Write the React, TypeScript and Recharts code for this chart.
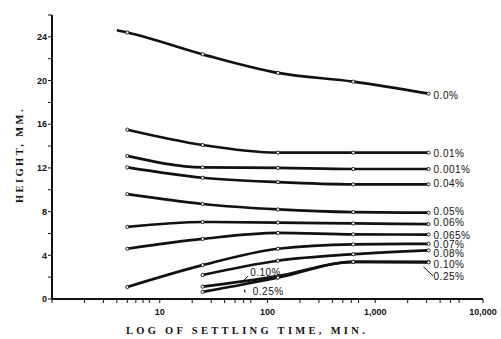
import React from 'react'
import { LineChart, Line, XAxis, YAxis, ReferenceLine, ReferenceDot } from 'recharts'

// settling times (min) where heights were read
const TIMES = [5, 25, 125, 625, 3125]
const LATE_TIMES = [25, 125, 625, 3125]

// heights (mm) per concentration
const H_0 = [24.4, 22.4, 20.7, 19.9, 18.8]
const H_001 = [15.5, 14.1, 13.4, 13.4, 13.4]
const H_0001 = [13.1, 12.05, 12.0, 11.9, 11.9]
const H_004 = [12.05, 11.1, 10.7, 10.5, 10.5]
const H_005 = [9.6, 8.7, 8.2, 7.95, 7.9]
const H_006 = [6.6, 7.05, 7.0, 6.92, 6.86]
const H_0065 = [4.6, 5.5, 6.05, 5.92, 5.9]
const H_007 = [1.1, 3.1, 4.6, 5.0, 5.05]
const H_008 = [2.2, 3.5, 4.1, 4.45]
const H_010 = [1.13, 2.1, 3.4, 3.4]
const H_025 = [0.65, 1.95, 3.4, 3.35]

// the 0.0% curve is drawn a little past its first reading
const H_0_START = { t: 4, h: 24.6 }

const X_TICKS = [1, 2, 3, 4, 5, 6, 7, 8, 9, 10, 20, 30, 40, 50, 60, 70, 80, 90, 100, 200, 300, 400, 500, 600, 700, 800, 900, 1000, 2000, 3000, 4000, 5000, 6000, 7000, 8000, 9000, 10000]
const X_LABELS: Record<number, string> = { 10: '10', 100: '100', 1000: '1,000', 10000: '10,000' }
const Y_TICKS = [0, 2, 4, 6, 8, 10, 12, 14, 16, 18, 20, 22, 24, 26]

const toPts = (ts: number[], hs: number[]) => ts.map((t, i) => ({ t, h: hs[i] }))

const series = [
  { name: '0.0%', data: [{ ...H_0_START, skip: true }, ...toPts(TIMES, H_0)], dy: 2 },
  { name: '0.01%', data: toPts(TIMES, H_001), dy: 1 },
  { name: '0.001%', data: toPts(TIMES, H_0001), dy: 0 },
  { name: '0.04%', data: toPts(TIMES, H_004), dy: -1 },
  { name: '0.05%', data: toPts(TIMES, H_005), dy: -1.5 },
  { name: '0.06%', data: toPts(TIMES, H_006), dy: -2 },
  { name: '0.065%', data: toPts(TIMES, H_0065), dy: 1 },
  { name: '0.07%', data: toPts(TIMES, H_007), dy: 1 },
  { name: '0.08%', data: toPts(LATE_TIMES, H_008), dy: 3.5 },
  { name: '0.10%', data: toPts(LATE_TIMES, H_010), dy: 3 },
  { name: '0.25%', data: toPts(LATE_TIMES, H_025), dy: 14 },
]

const INK = '#111'
const labelFont = '"Liberation Sans", Arial, sans-serif'
const titleFont = '"Liberation Serif", "Times New Roman", serif'

const Dot = (p: any) => {
  if (p.payload?.skip) return <g key={p.key} />
  return <circle key={p.key} cx={p.cx} cy={p.cy} r={1.6} fill="#fff" stroke={INK} strokeWidth={0.9} />
}

const Note = ({ cx, cy, text }: { cx: number; cy: number; text: string }) => (
  <text x={cx} y={cy} dy="0.35em" fontSize={10} letterSpacing={0.5} fontFamily={labelFont} fill={INK}>
    {text}
  </text>
)

export default function App() {
  return (
    <div style={{ position: 'relative', width: 501, height: 339, background: '#fff' }}>
      <style>{'body{margin:0}'}</style>
      <LineChart width={501} height={339} margin={{ top: 15, right: 18, bottom: 0, left: 22 }}>
        <XAxis
          type="number"
          dataKey="t"
          scale="log"
          domain={[1, 10000]}
          ticks={X_TICKS}
          allowDataOverflow
          tickFormatter={(v: number) => X_LABELS[v] ?? ''}
          tick={{ fill: INK, fontSize: 9, fontFamily: labelFont, fontWeight: 700 }}
          tickSize={4}
          tickMargin={6}
          height={40}
          stroke={INK}
          axisLine={{ strokeWidth: 2 }}
        />
        <YAxis
          type="number"
          domain={[0, 26]}
          ticks={Y_TICKS}
          tickFormatter={(v: number) => (v % 4 === 0 && v < 26 ? String(v) : '')}
          tick={{ fill: INK, fontSize: 9, fontFamily: labelFont, fontWeight: 700 }}
          tickSize={4}
          tickMargin={1}
          width={30}
          stroke={INK}
          axisLine={{ strokeWidth: 2 }}
        />
        {series.map((s) => (
          <Line
            key={s.name}
            data={s.data}
            dataKey="h"
            type="monotone"
            stroke={INK}
            strokeWidth={2.7}
            dot={Dot}
            activeDot={false}
            isAnimationActive={false}
            label={(p: any) =>
              p.index === s.data.length - 1 ? (
                <Note key={p.key ?? s.name} cx={p.x + 5} cy={p.y + s.dy} text={s.name} />
              ) : (
                <g key={p.key ?? `${s.name}-${p.index}`} />
              )
            }
          />
        ))}
        {/* leader from the 0.10% end to the 0.25% label */}
        <ReferenceLine segment={[{ x: 2800, y: 2.95 }, { x: 3450, y: 2.1 }]} stroke={INK} strokeWidth={1} />
        {/* inner labels for the 0.10% and 0.25% curves */}
        <ReferenceLine segment={[{ x: 57, y: 1.45 }, { x: 66, y: 2.1 }]} stroke={INK} strokeWidth={1} />
        <ReferenceLine segment={[{ x: 61, y: 0.85 }, { x: 62, y: 0.6 }]} stroke={INK} strokeWidth={1.2} />
        <ReferenceDot x={69} y={2.4} r={0} shape={(p: any) => <Note cx={p.cx} cy={p.cy} text="0.10%" />} />
        <ReferenceDot x={73} y={0.65} r={0} shape={(p: any) => <Note cx={p.cx} cy={p.cy} text="0.25%" />} />
      </LineChart>
      <div
        style={{
          position: 'absolute',
          left: 0,
          width: 494,
          top: 325,
          textAlign: 'center',
          fontFamily: titleFont,
          fontWeight: 700,
          fontSize: 10.5,
          letterSpacing: 3.3,
          color: INK,
          whiteSpace: 'nowrap',
        }}
      >
        LOG OF SETTLING TIME, MIN.
      </div>
      <div
        style={{
          position: 'absolute',
          left: 19,
          top: 155,
          transform: 'translate(-50%, -50%) rotate(-90deg)',
          fontFamily: titleFont,
          fontWeight: 700,
          fontSize: 10.5,
          letterSpacing: 2.4,
          color: INK,
          whiteSpace: 'nowrap',
        }}
      >
        HEIGHT, MM.
      </div>
    </div>
  )
}
